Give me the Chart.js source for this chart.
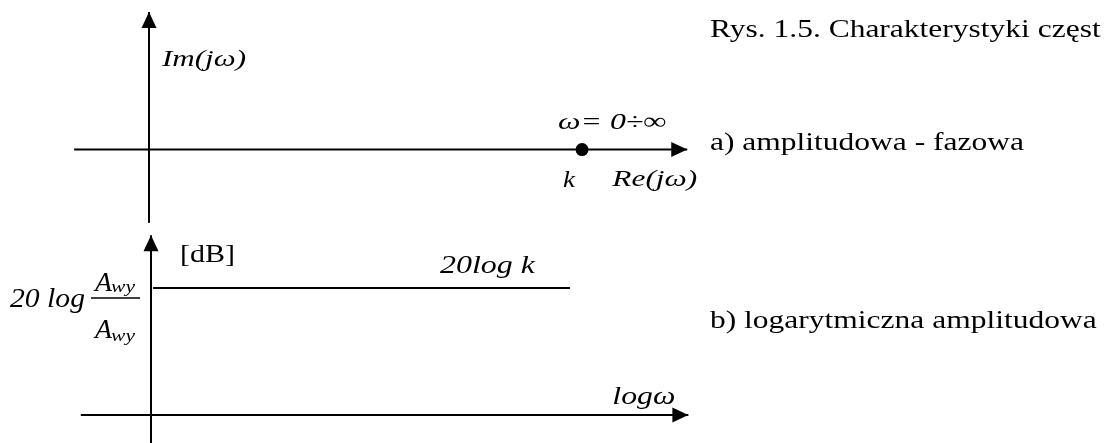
<!DOCTYPE html>
<html lang="pl">
<head>
<meta charset="utf-8">
<title>Rys. 1.5</title>
<script src="https://cdn.jsdelivr.net/npm/chart.js@4/dist/chart.umd.min.js"></script>
<style>
  html, body { margin: 0; padding: 0; background: #ffffff; }
  #wrap { position: relative; width: 1106px; height: 443px; }
  canvas { display: block; }
</style>
</head>
<body>
<div id="wrap"><canvas id="chart" width="1106" height="443"></canvas></div>
<script>
// ---- data: proportional element, k = 10 ----
const K = 10;                       // static gain k (point on the Re axis)
const GAIN_DB = 20;                 // 20·log k for k = 10
const RE_AXIS = [-1.73, 12.43];     // Re(jω) axis extent
const IM_AXIS = [-2.2, 4.13];       // Im(jω) axis extent
const LOGW_AXIS = [-0.67, 5.13];    // log ω axis extent (decades)
const DB_AXIS = [-4.5, 28.3];       // [dB] axis extent
const MAG_SPAN = [0.02, 4];         // log ω range of the magnitude line

const TEXT = {
  title: 'Rys. 1.5. Charakterystyki częst',
  a: 'a) amplitudowa - fazowa',
  b: 'b) logarytmiczna amplitudowa',
  im: 'Im(jω)',
  re: 'Re(jω)',
  omega: 'ω= 0÷∞',
  k: 'k',
  db: '[dB]',
  log: '20 log',
  frac: 'A',
  sub: 'wy',
  gain: '20log k',
  logw: 'logω'
};

const INK = '#000000';
const SERIF = '"Liberation Serif", "Times New Roman", serif';
const STRETCH = 1.26;

function seg(xs, y) { return [{ x: xs[0], y: y }, { x: xs[1], y: y }]; }
function vseg(x, ys) { return [{ x: x, y: ys[0] }, { x: x, y: ys[1] }]; }

function lineSet(label, data, xID, yID, arrow) {
  return {
    label, data, xAxisID: xID, yAxisID: yID,
    showLine: true, borderColor: INK, borderWidth: 2,
    pointRadius: 0, pointHoverRadius: 0, fill: false,
    arrow: !!arrow
  };
}

function drawText(ctx, str, x, y, font, width) {
  ctx.save();
  ctx.font = font;
  ctx.fillStyle = INK;
  ctx.textAlign = 'left';
  ctx.textBaseline = 'alphabetic';
  const w = ctx.measureText(str).width;
  const sx = width ? width / w : STRETCH;
  ctx.translate(x, y);
  ctx.scale(sx, 1);
  ctx.fillText(str, 0, 0);
  ctx.restore();
}

// filled arrow heads at the far end of every axis line
const arrowHeads = {
  id: 'arrowHeads',
  afterDatasetsDraw(chart) {
    const ctx = chart.ctx;
    chart.data.datasets.forEach((ds) => {
      if (!ds.arrow) return;
      const xs = chart.scales[ds.xAxisID], ys = chart.scales[ds.yAxisID];
      const p0 = ds.data[0], p1 = ds.data[ds.data.length - 1];
      const x0 = xs.getPixelForValue(p0.x), y0 = ys.getPixelForValue(p0.y);
      const x1 = xs.getPixelForValue(p1.x), y1 = ys.getPixelForValue(p1.y);
      const a = Math.atan2(y1 - y0, x1 - x0);
      const len = 16, half = 7.5;
      ctx.save();
      ctx.fillStyle = INK;
      ctx.translate(x1, y1);
      ctx.rotate(a);
      ctx.beginPath();
      ctx.moveTo(0, 0);
      ctx.lineTo(-len, -half);
      ctx.lineTo(-len, half);
      ctx.closePath();
      ctx.fill();
      ctx.restore();
    });
  }
};

// axis names, point labels and captions
const annotations = {
  id: 'annotations',
  afterDatasetsDraw(chart) {
    const ctx = chart.ctx;
    const s = chart.scales;
    const area = chart.chartArea;
    const it = (px) => 'italic ' + px + 'px ' + SERIF;
    const rg = (px) => px + 'px ' + SERIF;

    // Nyquist plane
    const imTipX = s.xTop.getPixelForValue(0), imTipY = s.yTop.getPixelForValue(IM_AXIS[1]);
    drawText(ctx, TEXT.im, imTipX + 13, imTipY + 54, it(24), 84);
    const kx = s.xTop.getPixelForValue(K), ky = s.yTop.getPixelForValue(0);
    drawText(ctx, TEXT.omega, kx - 24, ky - 21, it(24), 108);
    drawText(ctx, TEXT.k, kx - 19, ky + 37.5, it(24), 12);
    const reTipX = s.xTop.getPixelForValue(RE_AXIS[1]);
    drawText(ctx, TEXT.re, reTipX - 75, ky + 36.5, it(24), 85);

    // Bode magnitude plot
    const dbX = s.xBot.getPixelForValue(0), dbTipY = s.yBot.getPixelForValue(DB_AXIS[1]);
    drawText(ctx, TEXT.db, dbX + 29, dbTipY + 27, rg(25), 55);
    const gY = s.yBot.getPixelForValue(GAIN_DB);
    drawText(ctx, TEXT.log, dbX - 141, gY + 19, it(27), 75);
    // A_wy / A_wy fraction
    const fx = dbX - 56, barY = gY + 10;
    ctx.save();
    ctx.strokeStyle = INK; ctx.lineWidth = 1.5;
    ctx.beginPath(); ctx.moveTo(fx - 4, barY); ctx.lineTo(fx + 45, barY); ctx.stroke();
    ctx.restore();
    drawText(ctx, TEXT.frac, fx, barY - 7, it(28), 17);
    drawText(ctx, TEXT.sub, fx + 16, barY - 6, it(17), 24);
    drawText(ctx, TEXT.frac, fx, barY + 40, it(28), 17);
    drawText(ctx, TEXT.sub, fx + 16, barY + 43, it(17), 24);

    const gEndX = s.xBot.getPixelForValue(MAG_SPAN[1]);
    drawText(ctx, TEXT.gain, gEndX - 130, gY - 15, it(25), 95);
    const lwX = s.xBot.getPixelForValue(LOGW_AXIS[1]), lwY = s.yBot.getPixelForValue(0);
    drawText(ctx, TEXT.logw, lwX - 76, lwY - 11, it(25), 63);

    // captions
    const cx = area.left + 710;
    drawText(ctx, TEXT.title, cx, area.top + 37, rg(25));
    drawText(ctx, TEXT.a, cx, area.top + 150, rg(25));
    drawText(ctx, TEXT.b, cx, area.top + 328, rg(25));
  }
};

new Chart(document.getElementById('chart'), {
  type: 'scatter',
  data: {
    datasets: [
      lineSet('Re(jω)', seg(RE_AXIS, 0), 'xTop', 'yTop', true),
      lineSet('Im(jω)', vseg(0, IM_AXIS), 'xTop', 'yTop', true),
      {
        label: 'k', data: [{ x: K, y: 0 }], xAxisID: 'xTop', yAxisID: 'yTop',
        showLine: false, pointRadius: 6.5, pointHoverRadius: 6.5,
        backgroundColor: INK, borderWidth: 0
      },
      lineSet('log ω', seg(LOGW_AXIS, 0), 'xBot', 'yBot', true),
      lineSet('dB', vseg(0, DB_AXIS), 'xBot', 'yBot', true),
      lineSet('20 log k', seg(MAG_SPAN, GAIN_DB), 'xBot', 'yBot', false)
    ]
  },
  options: {
    responsive: false,
    animation: false,
    devicePixelRatio: 1,
    layout: { padding: 0, autoPadding: false },
    events: [],
    plugins: { legend: { display: false }, tooltip: { enabled: false }, title: { display: false } },
    scales: {
      xTop: { type: 'linear', display: false, min: -3.441, max: 22.10 },
      yTop: { type: 'linear', display: false, min: -8.81, max: 4.49 },
      xBot: { type: 'linear', display: false, min: -1.4415, max: 9.117 },
      yBot: { type: 'linear', display: false, min: -4.41, max: 65.35 }
    }
  },
  plugins: [arrowHeads, annotations]
});
</script>
</body>
</html>
